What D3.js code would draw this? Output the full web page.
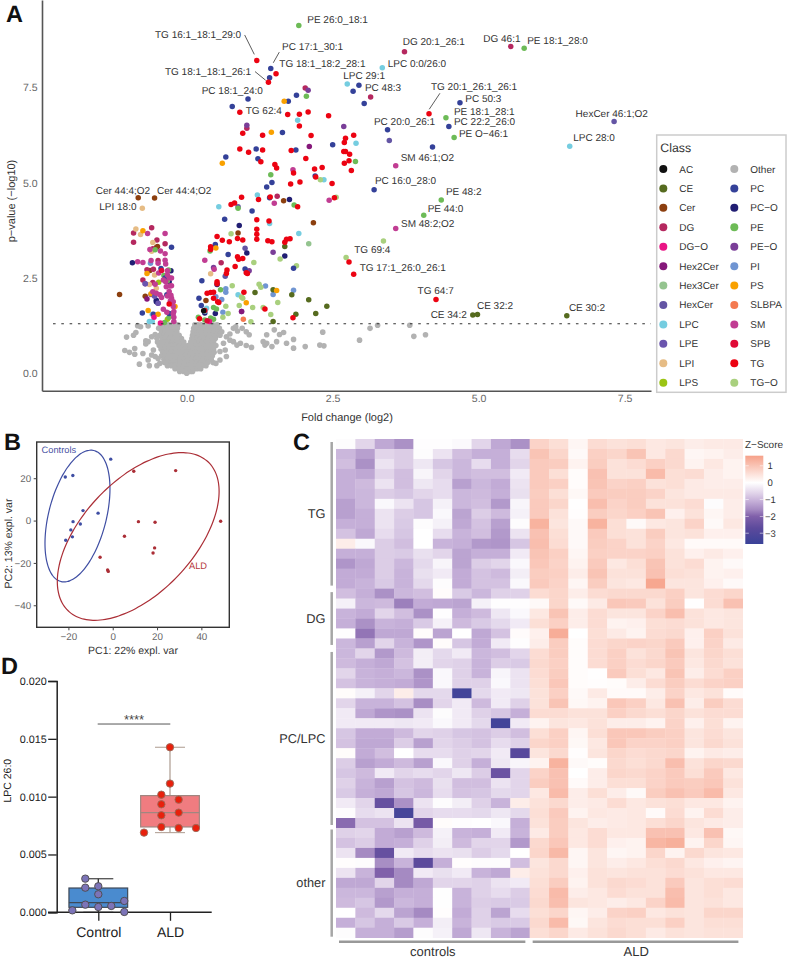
<!DOCTYPE html>
<html><head><meta charset="utf-8">
<script src="https://cdn.jsdelivr.net/npm/d3@7/dist/d3.min.js"></script>
<style>html,body{margin:0;padding:0;background:#fff}svg{display:block}text{font-family:"Liberation Sans",Arial,sans-serif;text-rendering:geometricPrecision}</style>
</head><body><div id="chart"></div>
<script>
// ---------- Panel A data: [log2 fold change, -log10 p]
const classNames=["AC","CE","Cer","DG","DG−O","Hex2Cer","Hex3Cer","HexCer","LPC","LPE","LPI","LPS","Other","PC","PC−O","PE","PE−O","PI","PS","SLBPA","SM","SPB","TG","TG−O"];
const classColors=["#111111","#566b1f","#8c3f0f","#b5285f","#ea1585","#85187a","#94c48f","#6455a4","#75cde0","#6b55ae","#e6bc85","#9bc414","#b2b2b2","#344199","#211e73","#6dbb57","#7a3e98","#7095d2","#f9a100","#f47a50","#c13d93","#e00b37","#ec0312","#a9d07e"];
const otherRows=[[1.27,[-.45,-.38,-.31,-.25,-.19,-.15,.14,.19,.25,.33,.39,.45,.52]],[1.18,[-.48,-.41,-.34,-.27,-.21,-.16,.12,.17,.24,.3,.37,.43,.5,.56]],[1.09,[-.43,-.36,-.3,-.23,-.17,.11,.15,.22,.28,.34,.41,.47,.54]],[1,[-.46,-.39,-.33,-.26,-.19,-.13,.1,.15,.19,.26,.32,.38,.44,.51,.57]],[.91,[-.42,-.36,-.29,-.22,-.15,-.09,.09,.13,.17,.24,.3,.36,.43,.49]],[.82,[-.5,-.44,-.38,-.31,-.24,-.17,-.1,-.05,.07,.14,.21,.27,.33,.4,.46]],[.73,[-.47,-.4,-.33,-.26,-.19,-.12,-.05,.02,.09,.16,.23,.3,.37,.44,.5]],[.64,[-.44,-.37,-.3,-.23,-.16,-.09,-.02,.05,.12,.19,.26,.33,.4,.46]],[.55,[-.41,-.34,-.27,-.2,-.13,-.06,.01,.08,.15,.22,.29,.36,.42,.47]],[.46,[-.43,-.37,-.3,-.23,-.16,-.09,-.02,.05,.12,.19,.26,.32,.38,.44]],[.37,[-.39,-.33,-.26,-.19,-.12,-.05,.02,.09,.16,.23,.29,.35,.42]],[.28,[-.38,-.32,-.25,-.18,-.11,-.04,.03,.1,.17,.24,.3,.36,.45]],[.2,[-.33,-.26,-.19,-.12,-.05,.02,.09,.16,.2,.26,.33]],[.12,[-.2,-.13,-.06,.01,.08,.13,.18,.24]],[.05,[-.12,-.05,.02,.06,.1]],[0,[0]]];
const otherScattered=[[-1.03,.95],[-.91,1],[-.87,1.07],[-1.06,.6],[-.98,.55],[-.89,.65],[-.89,.5],[-.81,.24],[-.66,.35],[-.64,.2],[-.51,.2],[-.75,.52],[-.7,.77],[-.7,.85],[-.66,.83],[-.6,.96],[-.54,1.02],[-.51,.92],[-.84,1.25],[-.79,1.22],[-.66,1.24],[-.57,.61],[-.6,.48],[-.49,.39],[-.46,.26],[-.54,.44],[.74,1.03],[.8,1.18],[.87,1.11],[.95,1.18],[1.02,1.09],[1.07,1.01],[1.11,.68],[1.02,.73],[.92,.79],[.74,.87],[.63,.79],[.57,.57],[.68,.44],[.5,.26],[.57,.35],[.84,1.22],[.68,.96],[.8,.83],[.86,.74],[.66,.61],[.51,1.22],[.6,1.09],[1.37,1.01],[1.5,1.14],[1.59,1.02],[1.66,1.07],[1.54,.83],[1.31,.83],[1.37,.79],[1.46,.7],[1.34,.74],[1.71,.79],[1.83,.89],[1.83,.66],[2.03,.7],[2.28,.74],[2.35,.72],[2.33,1.08],[2.96,.87],[3.14,1.18],[3.27,1.26],[3.82,1.26],[3.89,.97],[4.09,1.01]];
const ptsAC=[[.29,1.64]];
const ptsCE=[[4.9,1.53],[4.98,1.54],[6.51,1.51],[1.68,3.33],[1.17,2.12],[1.48,2.19],[1.8,2.06],[2.09,1.93],[2.4,1.76],[2.21,1.57],[1.87,1.55],[1.48,1.36]];
const ptsCer=[[-.83,4.61],[-.55,4.6],[1.66,4.53],[2.17,3.95],[.88,3.68],[.33,1.91],[-.5,3.33],[-.63,2.7],[-.71,2.02],[-1.15,2.07],[-.52,3.3]];
const ptsDG=[[3.73,8.44],[5.55,8.58],[3.15,7.25],[2.03,7.49],[1.03,6.43],[1.55,4.65],[-.91,3.68],[-.6,3.82],[-.91,3.44],[-.51,3.5],[-.37,3.4],[-.58,3.27],[-.49,2.96],[-.57,2.73],[-.58,2.38],[-.68,2.72],[-.75,2.45],[-.33,2.5],[.59,2.9]];
const ptsDGO=[[-.56,1.47],[.39,1.36],[-.45,1.32]];
const ptsHex2Cer=[[2.1,5.95],[.94,1.62],[-.68,1.95]];
const ptsHex3Cer=[[2.09,3.4],[-.55,2.1]];
const ptsHexCer=[[7.32,6.61],[3.47,6.11],[1,3.28],[.66,2.55],[.88,4.37]];
const ptsLPC=[[3.35,8.02],[2.75,7.59],[1.9,6.64],[2.9,6.04],[2.35,5.08],[6.56,5.96],[1.21,4.68],[.55,4.37],[1.42,3.93],[1.92,3.67],[.88,2.06],[.34,1.71],[-.59,1.55],[-.64,1.36],[-.59,1.36],[.31,1.63]];
const ptsLPE=[[-.71,2.35],[-.49,1.84],[-.55,2.02]];
const ptsLPI=[[-.76,4.33],[-.87,3.79],[-.79,3.64],[-.58,3.43],[-.55,2.58],[-.64,2.33],[-.52,2.23],[.41,2.61],[-.6,3.2]];
const ptsLPS=[[-.48,2.39],[-.33,1.42]];
const ptsPC=[[1.44,8],[1.42,7.76],[2.95,7.56],[2.85,7.4],[3.04,7.08],[1.88,7.3],[1.74,7.14],[1.05,7.2],[.78,7],[1.64,6.32],[3.44,6.39],[1.19,5.89],[1.87,5.86],[2.5,6],[.67,5.68],[1.22,5.63],[2.2,5.18],[1.46,5.01],[1.37,4.89],[3.21,4.82],[1.42,4.61],[4.68,7.1],[4.49,6.48],[4.21,5.94],[.65,4.04],[.49,3.38],[.71,3.12],[1.83,2.76],[1,2.74],[.26,2.43],[.21,1.97],[.25,1.78],[-.26,3.31],[-.44,2.75],[-.34,2.06],[-.76,1.58],[-.57,1.55],[-.3,1.57],[-.37,2.5],[1.12,4.26]];
const ptsPCO=[[1.76,4.56],[1.68,3.08],[1.03,3.16],[.9,3.88],[.52,2.33],[.49,1.57],[.31,1.58],[-.93,2.9],[-.27,2.69],[-.52,1.92],[-.52,1.88],[-.3,2.4]];
const ptsPE=[[1.92,9.13],[5.78,8.53],[2.05,7.27],[2.89,5.56],[1.44,5.21],[1.84,4.42],[4.44,6.71],[4.58,6.19],[4.36,4.55],[4.06,4.15],[.4,3.21],[.58,2.19],[.46,1.73],[.51,1.69],[.2,1.47],[.41,1.45],[.46,1.42],[.31,1.4],[-.54,3.24],[-.31,2.71],[-.39,2.57],[-.33,2.43],[-.3,1.47],[-.38,1.33],[.88,4.33]];
const ptsPEO=[[2.08,7.43],[2.69,6.48],[1.03,6.51],[1.48,3.18],[.46,2.78],[1.07,2.69],[-.71,2.35],[-.49,1.84],[-.61,2.07],[.94,1.62]];
const ptsPI=[[-.62,2.89],[.67,2.22],[.67,2.13],[1.35,2.29],[1.48,2.07],[1.83,2.18],[.6,1.94],[.5,2.01],[.62,1.6]];
const ptsPS=[[1.67,7.14],[1.45,6.33],[.61,5.51],[.5,3.29],[1.54,2.17],[1.02,1.85],[-.75,3.74],[-.68,2.62],[-.61,2.09],[-.66,1.65],[-.49,1.55],[-.2,1.75]];
const ptsSLBPA=[[.97,1.42]];
const ptsSM=[[3.58,5.45],[1.82,5.34],[1.5,4.46],[2.44,4.54],[3.58,3.8],[.31,2.97],[.47,2.73],[-.67,3.67],[-.37,3.67],[-.63,3.25],[-.45,3.21],[-.37,3.14],[-.84,2.93],[-.75,2.91],[-.61,2.96],[-.49,2.89],[-.37,2.97],[-.36,2.87],[-.48,2.63],[-.33,2.69],[-.33,2.58],[-.3,2.51],[-.26,2.5],[-.54,2.34],[-.35,2.27],[-.29,2.29],[-.26,2.3],[-.58,2.14],[-.46,2.06],[-.43,1.99],[-.33,2.03],[-.26,1.97],[-.23,1.88],[-.23,1.75],[-.22,1.62],[-.4,1.68],[-.23,1.57],[-.22,1.47],[-.22,1.36],[-.3,2.15],[-.27,2.05],[-.36,2.4],[-.4,2.45],[-.28,1.9],[-.34,1.6],[-.52,2.1]];
const ptsSPB=[[.35,1.38],[-.43,2.7]];
const ptsTG=[[1.2,8.21],[1.53,7.86],[1.4,7.64],[.91,6.85],[1.73,6.79],[1.93,6.8],[2.08,6.86],[2.43,6.76],[1.93,6.49],[.96,6.3],[1.3,6.25],[2.13,6.24],[2.86,6.25],[2.72,6.17],[2.7,6.06],[.91,5.89],[1.06,5.8],[1.3,5.86],[1.79,5.85],[2.69,5.82],[2.72,5.82],[2.79,5.75],[2.78,5.58],[2.7,5.51],[2.82,5.32],[1.27,5.55],[1.51,5.48],[1.54,5.39],[2.04,5.64],[2.19,5.36],[2.32,5.4],[1.83,5.26],[2.21,5.15],[2.49,4.98],[1.94,5.02],[1.78,4.97],[.94,4.62],[1.23,4.56],[1.43,4.63],[1.9,4.37],[.76,4.43],[.82,4.47],[2.53,4.61],[4.15,6.81],[4.27,1.94],[2.78,2.92],[2.86,2.6],[1.41,4],[1.2,4.03],[1.2,3.78],[1.2,3.65],[1.2,3.52],[1.39,3.48],[1.46,3.45],[1.68,3.44],[1.71,3.52],[1.77,3.53],[.87,3.06],[.89,2.99],[.96,3.01],[.87,3.54],[.96,3.5],[.83,2.8],[.52,3.59],[.61,3.49],[.73,3.45],[.41,3.32],[.41,3.25],[.69,2.71],[.68,2.62],[1.02,2.64],[1.04,2.62],[.52,2.4],[.52,2.35],[.35,2.1],[.41,2.12],[.46,2.13],[.98,2.13],[1.82,1.46],[1.34,1.69],[.46,1.97],[.53,1.88],[.55,1.86],[.31,1.65],[.22,1.43],[-.3,1.82]];
const ptsTGO=[[2.29,5.08],[2.56,4.62],[3.37,3.47],[2.73,3.04],[1.6,3],[1.88,2.82],[1.15,2.91],[.76,3.66],[.78,2.3],[1.24,2.34],[1.27,2.26],[1.44,1.54],[1.31,1.73],[1.56,1.86],[1.13,1.73],[.9,1.78],[.94,2],[.96,1.97],[.67,1.76],[.71,1.57],[1.1,1.35],[.62,1.47]];
const classPoints=[ptsAC,ptsCE,ptsCer,ptsDG,ptsDGO,ptsHex2Cer,ptsHex3Cer,ptsHexCer,ptsLPC,ptsLPE,ptsLPI,ptsLPS,[],ptsPC,ptsPCO,ptsPE,ptsPEO,ptsPI,ptsPS,ptsSLBPA,ptsSM,ptsSPB,ptsTG,ptsTGO];
const drawOrder=[2,3,6,7,10,11,16,17,14,8,15,23,1,13,18,19,4,5,9,20,21,22,0];
// annotations: [text, fold change at text start, -log10 p at text centre]
const annotations=[["PE 26:0_18:1",2.065,9.28],["TG 16:1_18:1_29:0",-.543,8.905],["PC 17:1_30:1",1.632,8.59],["TG 18:1_18:2_28:1",1.586,8.136],["LPC 0:0/26:0",3.442,8.136],["TG 18:1_18:1_26:1",-.372,7.934],["LPC 29:1",2.682,7.82],["PC 48:3",3.053,7.507],["PC 18:1_24:0",.257,7.428],["TG 62:4",1.01,6.903],["PC 20:0_26:1",3.207,6.596],["PC 16:0_28:0",3.224,5.055],["Cer 44:4;O2",-1.558,4.803],["Cer 44:4;O2",-.509,4.803],["LPI 18:0",-1.497,4.373],["DG 20:1_26:1",3.699,8.714],["DG 46:1",5.079,8.793],["PE 18:1_28:0",5.832,8.748],["TG 20:1_26:1_26:1",4.183,7.522],["PC 50:3",4.771,7.207],["PE 18:1_28:1",4.577,6.866],["PC 22:2_26:0",4.577,6.596],["PE O−46:1",4.663,6.289],["HexCer 46:1;O2",6.661,6.832],["LPC 28:0",6.62,6.176],["SM 46:1;O2",3.664,5.651],["PE 48:2",4.44,4.759],["PE 44:0",4.127,4.331],["SM 48:2;O2",3.67,3.919],["TG 69:4",2.87,3.255],["TG 17:1_26:0_26:1",2.962,2.782],["TG 64:7",3.955,2.16],["CE 32:2",4.971,1.785],["CE 34:2",4.178,1.53],["CE 30:2",6.546,1.732]];
const leaders=[[.993,8.88,1.158,8.37],[1.586,8.43,1.483,8.15],[1.17,7.92,1.353,7.69],[4.337,7.35,4.154,6.93]];
const volcanoXTicks=[0,2.5,5,7.5], volcanoYTicks=[0,2.5,5,7.5], pThreshold=1.3;
// ---------- Panel B data: [PC1, PC2]
const pcaControls=[[-.9,29],[-21.4,20.6],[-18,21.3],[-13.4,4.7],[-6.6,3.5],[-17.9,-.5],[-14.6,-1.6],[-18.9,-4.4],[-18.2,-7.7],[-21.2,-9.3]];
const pcaALD=[[9.5,23.3],[28.4,23.6],[11.6,-.5],[19.1,-.8],[48.7,-.3],[5.3,-7.4],[18.9,-12.9],[18.2,-15.3],[-5.7,-17.3],[-2.3,-23.3],[-2,-24]];
const ellipseControls=[-15.9,2.13,14.66,31.1,24.5];
const ellipseALD=[11.5,-7.5,36.5,39.6,32.5];
// ---------- Panel C data: z-scores per lipid row
const heatControls=[
[-.05,-.6,-1.2,-1.5,-.03,-.03,-.08,-.6,-1.2,-1.5],[-1,-1.3,-.6,-.7,-.05,-.4,-.9,-1.1,-1.1,-.5],[-.9,-1.5,-.4,-.7,-.35,-.8,-1,-.5,-1.1,-.6],[-1.1,-1.2,-.6,-.9,-.15,-.6,-1,-.9,-.9,-.3],[-1.1,-.95,-.4,-.9,-.35,-.5,-1.3,-1,-1.15,-.4],
[-1.1,-1,-.7,-.8,-.6,-.5,-1,-.95,-1.1,-.45],[-1.3,-1,-.1,-.4,-.8,-.2,-1,-.9,-1.4,-.15],[-1.3,-1.1,-.4,-.7,-.8,-.1,-1.25,-.7,-.95,-.2],[-1.1,-1.1,-.4,-.75,-.05,-.2,-1.2,-.85,-1.3,-.05],[-.85,-1.2,-.5,-.8,0,-.5,-1.05,-.9,-1.4,-.4],
[.3,-.1,-.7,-.9,0,-1.05,-1.1,-1.4,-1.45,-.8],[-1.1,-1.1,-.7,-.75,-.45,-.6,-1.25,-1.1,-1.1,-.3],[-1.45,-1.2,-.7,-1,-.55,-.15,-1.25,-.7,-.6,-.1],[-1.15,-1.15,-.7,-1.05,-.45,-.3,-1.15,-.85,-.95,-.25],[-1.15,-1.05,-.75,-1.05,-.55,-.05,-1.15,-.85,-.85,-.1],
[-.9,-1.1,-1.5,-1,-.9,.05,-.75,-1,-.65,-.65],[-.2,-1,-.95,-1.7,-1.15,-1.2,-1.25,-.2,-.03,-.03],[-1.05,-1.15,-.6,-.9,-1.5,-.03,-1.1,-.95,-.35,-.1],[-1.1,-1.5,-1.05,-1.1,-.75,-.2,-.95,-.75,-.55,-.3],[-.03,-1.8,-1.2,-1.2,.05,-1.25,0,-1.2,-.85,.06],
[-1,-1.3,-.6,-1.05,-1.45,.05,-.8,-1.15,-.3,-.03],[-1,-.6,-1.4,-.95,-.25,-.55,-.3,-1,-.9,-.6],[-.95,-1.1,-1.2,-.85,-.25,-.6,-.65,-1.05,-.7,-.75],[-.6,-1.05,-1.1,-1,-1.5,-.1,-.65,-1.05,-.15,-.4],[-.85,-1.05,-1.1,-1.15,-1.45,-.1,-.65,-.65,-.1,-.4],
[.05,-.2,-.6,.3,-.55,-.55,-3.4,-.55,-.3,-.35],[-.6,-1.05,-1.05,-.85,-1.55,-.6,-.3,-.95,-.3,-.65],[-.3,-1.2,-1.45,-1.5,-.4,-.05,-.3,-.65,-.8,-1.1],[-.3,-.3,-.3,-.35,-.3,-.1,-.3,-.55,-3.4,-.3],[-.8,-1.15,-1.15,-.95,-.6,-.65,-.8,-.85,-.7,-.9],
[-.85,-1.2,-1.2,-.7,-1.3,-.6,-.7,-.85,-.5,-.65],[.05,-1.15,-.9,0,-.5,-.5,-.65,-.6,-.3,-2.8],[-.7,-1.3,-1.15,-.95,-1.3,-.1,-.65,-1.1,-.35,-.15],[-.8,-.95,-.3,-.6,-.5,-.6,-.35,-.7,-2.4,-.6],[-.65,-1.05,-1.3,-.85,-.95,-.45,-.9,-.9,-.4,-.6],
[-.75,-1.1,-1.2,-.8,-1,-.5,-.85,-.8,-.55,-.6],[-.3,-.6,-2.5,-1.5,-.4,-.05,-.25,-.65,-1.05,.3],[-.05,-.5,-.4,-3.3,-.6,-.5,-.5,-.55,-.35,-.55],[-1.9,-.85,-.85,-.4,-2.2,.05,-.03,0,-.1,-1.1],[-.65,-.6,-1.15,-1.3,-.95,-.2,-1.05,-1.1,-.3,-1.05],
[-.85,-.7,-1.15,-1.1,-.65,-.25,-.95,-.6,-.6,-1.4],[-.4,-1.6,-2.5,-.3,-.5,-.4,-.45,-.7,-.55,0],[.03,-.05,-1.55,-1.05,-2.7,-1.1,.03,-.05,-.05,-.9],[-.4,-1.05,-2,-1.6,-.3,-.45,-.3,-1.05,-1.2,.3],[-1.2,-1.2,-.6,-1.6,-1.2,-.6,-.6,-.65,-.4,-.3],
[-1,-1,-1.3,-1.1,-1.1,-.02,-1.05,-.65,-.5,-.7],[-.95,-.8,-1.4,-1,-1.1,-.02,-1.05,-.7,-.75,-.75],[0,-.95,-.55,-1.25,-1.6,.03,-1.15,-.65,-1.25,-.5],[-1.1,-.8,-1.1,-.75,-1.1,-.25,-1.05,-.65,-.75,-.75],[-.05,-1.1,-1.1,-1.35,-.05,-.2,-1.2,-.35,-1.05,-1.25]];
const heatALD=[
[.75,.55,.15,.6,.5,.55,.4,.45,.3,.35,.35],[1,.7,.1,.8,.7,1,.4,.65,.15,.2,.3],[.9,.85,.2,.85,.5,.6,.8,.65,.2,.4,.2],[.9,.55,.05,1.05,.5,.5,1.15,.55,.6,.3,.2],[.9,.8,.05,1,.75,.8,.5,.55,.35,.3,.3],
[.85,.55,.12,.9,.85,.85,.75,.45,.35,.35,.35],[.9,.7,.02,1.1,.75,.85,.5,.5,.6,-.05,.3],[.9,.5,.03,.85,.7,.8,1,.25,.5,.15,.3],[1.3,.45,.1,1.3,.55,.1,.4,.45,.75,.1,.4],[1.05,.55,.1,.9,.55,.5,.85,.45,.5,.25,.25],
[1.1,.6,.1,.85,.75,.5,.75,.4,.08,.08,.08],[1,.8,.15,.8,.75,.75,.8,.5,.25,.35,.25],[.95,.75,.2,.9,.4,.55,1,.5,.6,.2,.1],[.85,.8,.3,1,.5,.5,1.05,.55,.5,.2,.25],[.9,.75,.15,.85,.45,.4,1.5,.45,.45,.25,.1],
[.6,.7,.3,.6,.65,.65,.65,.8,.45,.6,.7],[.1,.7,.1,.35,.95,.9,.5,.85,.02,.6,1.05],[.4,1,.3,.6,.45,.45,.75,1.1,.5,.4,.45],[.55,.8,.3,.6,.2,.25,.55,.6,.5,.4,.45],[.25,1.4,0,.55,.35,.2,.6,.65,.25,.8,.5],
[.3,.85,.05,.6,.7,.75,.7,.9,.25,.75,.35],[.6,.85,.05,.6,.8,.5,.65,1,.45,.7,.55],[.65,.8,.05,.6,.8,.6,.7,.9,.4,.65,.5],[.6,.85,.05,.02,.9,.55,.4,1,.3,.6,.8],[.55,.95,.05,.03,.05,.3,.6,.85,.6,.75,.8],
[.5,.8,.1,.35,.08,.08,.3,.75,.4,.5,.07],[.5,1,.12,.2,.95,.8,.4,1.05,.3,.85,.6],[.6,.6,.5,.5,.8,.65,.55,.7,.5,.6,.6],[.2,.45,.4,.5,.3,.3,.2,.75,.25,.55,.2],[.55,.8,.15,.55,.95,.95,.85,.8,.45,.6,.45],
[.7,.8,.12,.4,.95,.75,.75,.8,.45,.65,.5],[.45,.65,.03,.45,.7,.6,.65,.7,.2,.35,.3],[.2,1.3,.1,.05,.65,.55,.65,1.1,.5,.7,.65],[.75,1.05,0,.3,.7,.65,.75,.9,.55,.9,.4],[.85,1.05,.08,.3,.55,.55,.75,.9,.85,.95,.5],
[.4,1.15,.3,.55,.3,.1,.85,1.05,.9,1.15,.4],[.5,.65,.3,.35,.6,.4,.5,.55,.4,.4,.2],[.55,.9,.2,.4,.35,.4,.08,.6,.2,.6,.3],[.5,.85,.45,.3,.35,.4,.55,.7,.45,.35,.3],[.35,.85,.4,.6,.4,.4,1.05,1.05,.4,1.05,.12],
[.65,.95,.4,.6,.25,.2,1.25,1.35,.2,.7,.15],[.7,1.2,.15,.45,.15,.2,.7,.2,.65,.45,.4],[.45,.65,.15,.45,.3,.4,.55,.65,.4,.25,.18],[.5,.65,.25,.5,.45,.5,.5,.6,.5,.4,.4],[.55,.85,.2,.5,.65,.6,.5,.9,.45,.55,.6],
[.6,1.15,.3,.4,.6,.5,.5,1.1,.45,.55,.4],[.65,1.1,.45,.4,.3,.4,.75,1.15,.45,.5,.4],[.55,.7,.15,.3,.75,.8,.4,.5,.45,.7,.7],[.65,1.15,.12,.45,.6,.55,.55,.8,.45,.55,.55],[.55,.7,.35,.5,.65,.55,.35,.5,.45,.5,.5]];
const rowGroups=[["TG",15],["DG",6],["PC/LPC",18],["other",11]];
const colGroups=[["controls",10],["ALD",11]];
const zStops=[-3.6,-2.7,-2,-1.6,-1.1,-.6,0,1.6];
const zColors=["#3b4298","#5c4a9c","#8060aa","#a58ac2","#c5afd8","#e2d5ea","#ffffff","#f6a189"];
const zTicks=[1,0,-1,-2,-3];
// ---------- Panel D data: LPC 26:0
const boxCategories=["Control","ALD"];
const controlValues=[.00291,.00213,.00225,.00156,.00098,.00066,.00046,.00055,.00017,.00003];
const controlDodge=[-3,-3,0,0,6,-3,0,3,-6,6];
const aldValues=[.01427,.01113,.01017,.00974,.00934,.00839,.00862,.00738,.00729,.00729,.00689];
const aldDodge=[0,0,-2,2,-2,-2,2,-2,2,6,-6];
const controlBox=[0,.00043,.00084,.0021,.0029];
const aldBox=[.00689,.00738,.00862,.01009,.01427];
const boxTicks=[0,.005,.01,.015,.02];
const sigLevel=.01628;

// ---------- drawing
const svg=d3.select("#chart").append("svg").attr("width",787).attr("height",960);
const FONT="#333";
function letter(t,x,y){svg.append("text").attr("x",x).attr("y",y).attr("font-size",23.5).attr("font-weight","bold").attr("fill","#111").text(t);}
letter("A",6,22);letter("B",4,449.5);letter("C",293,450);letter("D",1,674);

// Panel A
const xA=d3.scaleLinear().domain([-2.478,7.952]).range([42,651]);
const yA=d3.scaleLinear().domain([-.457,9.798]).range([390.7,0]);
const gA=svg.append("g");
const axXA=gA.append("g").attr("transform","translate(0,390.7)").call(d3.axisBottom(xA).tickValues(volcanoXTicks).tickSize(0).tickPadding(4).tickFormat(d3.format(".1f")));
const axYA=gA.append("g").attr("transform","translate(42,0)").call(d3.axisLeft(yA).tickValues(volcanoYTicks).tickSize(0).tickPadding(4.5).tickFormat(d3.format(".1f")));
[axXA,axYA].forEach(a=>{a.select(".domain").attr("stroke","#555").attr("stroke-width",1.6);a.selectAll("text").attr("font-family","Liberation Sans").attr("font-size",10.5).attr("fill","#666");});
const allOther=otherRows.flatMap(r=>r[1].map(f=>[f,r[0]])).concat(otherScattered);
const dot=(sel,pts,c,r)=>sel.append("g").selectAll("circle").data(pts).join("circle").attr("cx",d=>xA(d[0])).attr("cy",d=>yA(d[1])).attr("r",r).attr("fill",c);
dot(gA,allOther,classColors[12],2.8);
drawOrder.forEach(i=>dot(gA,classPoints[i],classColors[i],2.75));
gA.append("line").attr("x1",xA.range()[0]+11).attr("x2",xA.range()[1]).attr("y1",yA(pThreshold)).attr("y2",yA(pThreshold)).attr("stroke","#333").attr("stroke-width",1.1).attr("stroke-dasharray","2.6 5.7");
gA.append("g").selectAll("line").data(leaders).join("line").attr("x1",d=>xA(d[0])).attr("y1",d=>yA(d[1])).attr("x2",d=>xA(d[2])).attr("y2",d=>yA(d[3])).attr("stroke","#333").attr("stroke-width",.8);
gA.append("g").selectAll("text").data(annotations).join("text").attr("x",d=>xA(d[1])).attr("y",d=>yA(d[2])).attr("dy",".35em").attr("font-size",10).attr("fill",FONT).text(d=>d[0]);
gA.append("text").attr("x",347).attr("y",420.5).attr("text-anchor","middle").attr("font-size",11).attr("fill",FONT).text("Fold change (log2)");
gA.append("text").attr("transform","translate(14.5,201) rotate(-90)").attr("text-anchor","middle").attr("font-size",11).attr("fill",FONT).text("p−value (−log10)");
// legend
const lg=svg.append("g");
lg.append("rect").attr("x",656.7).attr("y",135).attr("width",129.3).attr("height",257.3).attr("fill","#fff").attr("stroke","#ccc").attr("stroke-width",1.5);
lg.append("text").attr("x",660.3).attr("y",152).attr("font-size",12.3).attr("fill",FONT).text("Class");
const legendRow=d3.scalePoint().domain(d3.range(12)).range([169,382.7]);
classNames.forEach((n,i)=>{const col=i<12?0:1,row=i%12;
 lg.append("circle").attr("cx",663.3+col*71).attr("cy",legendRow(row)).attr("r",4).attr("fill",classColors[i]);
 lg.append("text").attr("x",679.3+col*71).attr("y",legendRow(row)).attr("dy",".35em").attr("font-size",10).attr("fill",FONT).text(n);});

// Panel B
const xB=d3.scaleLinear().domain([-34.3,52.6]).range([36.7,229.3]);
const yB=d3.scaleLinear().domain([-50.4,37.1]).range([627.3,442]);
const gB=svg.append("g");
gB.append("rect").attr("x",36.7).attr("y",442).attr("width",192.6).attr("height",185.3).attr("fill","none").attr("stroke","#333").attr("stroke-width",1.4);
const axXB=gB.append("g").attr("transform","translate(0,627.3)").call(d3.axisBottom(xB).tickValues([-20,0,20,40]).tickSize(3).tickPadding(2.5));
const axYB=gB.append("g").attr("transform","translate(36.7,0)").call(d3.axisLeft(yB).tickValues([-40,-20,0,20]).tickSize(3).tickPadding(2.5));
[axXB,axYB].forEach(a=>{a.select(".domain").remove();a.selectAll("line").attr("stroke","#444");a.selectAll("text").attr("font-family","Liberation Sans").attr("font-size",9.8).attr("fill","#666");});
function ellipsePath(e){const[cx,cy,rx,ry,d]=e;const pts=d3.range(0,360,4).map(a=>{const t=a*Math.PI/180,dl=d*Math.PI/180;return[xB(cx+rx*Math.cos(t)),yB(cy+ry*Math.sin(t+dl))];});return d3.line().curve(d3.curveCardinalClosed)(pts);}
gB.append("path").attr("d",ellipsePath(ellipseControls)).attr("fill","none").attr("stroke","#3f4ea3").attr("stroke-width",1.2);
gB.append("path").attr("d",ellipsePath(ellipseALD)).attr("fill","none").attr("stroke","#ab2e36").attr("stroke-width",1.2);
gB.append("g").selectAll("circle").data(pcaControls).join("circle").attr("cx",d=>xB(d[0])).attr("cy",d=>yB(d[1])).attr("r",1.7).attr("fill","#3f4ea3");
gB.append("g").selectAll("circle").data(pcaALD).join("circle").attr("cx",d=>xB(d[0])).attr("cy",d=>yB(d[1])).attr("r",1.7).attr("fill","#ab2e36");
gB.append("text").attr("x",41.5).attr("y",452.5).attr("font-size",9.3).attr("fill","#4a52a3").text("Controls");
gB.append("text").attr("x",189).attr("y",569).attr("font-size",9.3).attr("fill","#b5373d").text("ALD");
gB.append("text").attr("x",133).attr("y",654).attr("text-anchor","middle").attr("font-size",10.5).attr("fill",FONT).text("PC1: 22% expl. var");
gB.append("text").attr("transform","translate(12,543.5) rotate(-90)").attr("text-anchor","middle").attr("font-size",10.5).attr("fill",FONT).text("PC2: 13% expl. var");

// Panel C
const heat=heatControls.map((r,i)=>r.concat(heatALD[i]));
const xC=d3.scaleBand().domain(d3.range(21)).range([336,742.7]);
const yC=d3.scaleBand().domain(d3.range(50)).range([439,937.7]);
const zC=d3.scaleLinear().domain(zStops).range(zColors);
const gC=svg.append("g");
gC.append("g").selectAll("g").data(heat).join("g").attr("transform",(d,i)=>`translate(0,${yC(i)})`).selectAll("rect").data(d=>d).join("rect").attr("x",(d,i)=>xC(i)).attr("width",xC.bandwidth()+.3).attr("height",yC.bandwidth()+.3).attr("fill",d=>zC(d));
let r0=0;
rowGroups.forEach(([n,c],k)=>{const top=yC(r0),bot=yC(r0)+c*yC.bandwidth();
 const pad=k==0?[3,3]:k==1?[3.5,3.5]:k==2?[3.5,3]:[1.5,1];
 gC.append("line").attr("x1",331.7).attr("x2",331.7).attr("y1",top+pad[0]).attr("y2",bot-pad[1]).attr("stroke","#a6a6a6").attr("stroke-width",2.5);
 gC.append("text").attr("x",325.5).attr("y",(top+bot)/2).attr("dy",".35em").attr("text-anchor","end").attr("font-size",12.8).attr("fill",FONT).text(n);
 r0+=c;});
let c0=0;
colGroups.forEach(([n,c])=>{const l=xC(c0),r=xC(c0)+c*xC.bandwidth();
 gC.append("line").attr("x1",l+3).attr("x2",r-4.3).attr("y1",941.7).attr("y2",941.7).attr("stroke","#999").attr("stroke-width",2.5);
 gC.append("text").attr("x",(l+r)/2).attr("y",955.5).attr("text-anchor","middle").attr("font-size",13).attr("fill",FONT).text(n);
 c0+=c;});
// colour bar
const barY=d3.scaleLinear().domain([1.6,-3.64]).range([455.7,544]);
const defs=svg.append("defs");
const grad=defs.append("linearGradient").attr("id","zg").attr("x1",0).attr("x2",0).attr("y1",0).attr("y2",1);
zStops.slice().reverse().forEach(v=>grad.append("stop").attr("offset",(1.6-v)/5.24).attr("stop-color",zC(v)));
gC.append("rect").attr("x",745.3).attr("y",455.7).attr("width",18).attr("height",88.3).attr("fill","url(#zg)");
zTicks.forEach(v=>{const y=barY(v);
 gC.append("line").attr("x1",745.3).attr("x2",748.8).attr("y1",y).attr("y2",y).attr("stroke","#fff").attr("stroke-width",.7).attr("opacity",.8);
 gC.append("line").attr("x1",759.8).attr("x2",763.3).attr("y1",y).attr("y2",y).attr("stroke","#fff").attr("stroke-width",.7).attr("opacity",.8);
 gC.append("text").attr("x",v<0?765:767.5).attr("y",y).attr("dy",".35em").attr("font-size",9.5).attr("fill",FONT).text(d3.format("d")(v));});
gC.append("text").attr("x",745).attr("y",447.5).attr("font-size",10).attr("fill",FONT).text("Z−Score");

// Panel D
const xD=d3.scalePoint().domain(boxCategories).range([98.3,170]);
const yD=d3.scaleLinear().domain([0,.02]).range([912.3,681]);
const gD=svg.append("g");
const bw=58.7,cap=30;
function box(cat,b,fill,stroke,whisk){const x=xD(cat);
 gD.append("line").attr("x1",x).attr("x2",x).attr("y1",yD(b[0])).attr("y2",yD(b[4])).attr("stroke",whisk).attr("stroke-width",1.3);
 [b[0],b[4]].forEach(v=>gD.append("line").attr("x1",x-cap/2).attr("x2",x+cap/2).attr("y1",yD(v)).attr("y2",yD(v)).attr("stroke",whisk).attr("stroke-width",1.1));
 gD.append("rect").attr("x",x-bw/2).attr("width",bw).attr("y",yD(b[3])).attr("height",yD(b[1])-yD(b[3])).attr("fill",fill).attr("stroke",stroke).attr("stroke-width",1.2);
 gD.append("line").attr("x1",x-bw/2).attr("x2",x+bw/2).attr("y1",yD(b[2])).attr("y2",yD(b[2])).attr("stroke",stroke).attr("stroke-width",1.2);}
box("Control",controlBox,"#4a8bcf","#3f4a58","#2f2f2f");
box("ALD",aldBox,"#f07c80","#a08680","#b3a398");
const axXD=gD.append("g").attr("transform","translate(0,912.3)").call(d3.axisBottom(xD).tickSize(8.5).tickPadding(6));
const axYD=gD.append("g").attr("transform","translate(56.7,0)").call(d3.axisLeft(yD).tickValues(boxTicks).tickSize(8.5).tickPadding(1.5).tickFormat(d3.format(".3f")));
axXD.select(".domain").attr("d","M48,0H211.7");
[axXD,axYD].forEach(a=>{a.select(".domain").attr("stroke","#222").attr("stroke-width",1.5);a.selectAll("line").attr("stroke","#222").attr("stroke-width",1.3);a.selectAll("text").attr("font-family","Liberation Sans").attr("fill","#222");});
axXD.selectAll("text").attr("font-size",14);
axYD.selectAll("text").attr("font-size",10.8);
gD.append("g").selectAll("circle").data(controlValues).join("circle").attr("cx",(d,i)=>xD("Control")+controlDodge[i]*4.33).attr("cy",d=>yD(d)).attr("r",3.7).attr("fill","#7c74b8").attr("stroke","#4d4a4a").attr("stroke-width",.9);
gD.append("g").selectAll("circle").data(aldValues).join("circle").attr("cx",(d,i)=>xD("ALD")+aldDodge[i]*4.33).attr("cy",d=>yD(d)).attr("r",3.7).attr("fill","#e8200c").attr("stroke","#9a6a5a").attr("stroke-width",.9);
gD.append("line").attr("x1",97.7).attr("x2",170.3).attr("y1",yD(sigLevel)).attr("y2",yD(sigLevel)).attr("stroke","#555").attr("stroke-width",1);
gD.append("text").attr("x",134).attr("y",724).attr("text-anchor","middle").attr("font-size",13).attr("fill","#444").text("****");
gD.append("text").attr("transform","translate(11,780.7) rotate(-90)").attr("text-anchor","middle").attr("font-size",10.5).attr("fill","#222").text("LPC 26:0");
</script></body></html>
